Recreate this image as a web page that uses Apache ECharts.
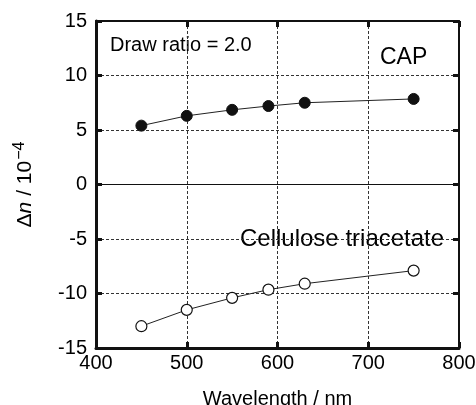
<!DOCTYPE html>
<html>
<head>
<meta charset="utf-8">
<script src="https://cdn.jsdelivr.net/npm/echarts@6/dist/echarts.min.js"></script>
<style>
  html, body { margin: 0; padding: 0; background: #fff; }
  #chart { width: 476px; height: 405px; }
</style>
</head>
<body>
<div id="chart"></div>
<script>
// wavelength (nm) and birefringence (x 10^-4)
var wavelength = [450, 500, 550, 590, 630, 750];
var capDn = [5.4, 6.3, 6.85, 7.2, 7.5, 7.85];
var ctaDn = [-13.0, -11.5, -10.4, -9.65, -9.1, -7.9];
var xTicks = [400, 500, 600, 700, 800];
var yTicks = [-15, -10, -5, 0, 5, 10, 15];

var font = "'Liberation Sans', Arial, sans-serif";

function pairs(ys) {
  return wavelength.map(function (x, i) { return [x, ys[i]]; });
}

var myChart = echarts.init(document.getElementById("chart"));

var dashed = { show: true, lineStyle: { color: "#333", width: 1, type: [3, 2] } };

myChart.setOption({
  animation: false,
  backgroundColor: "#fff",
  grid: { left: 96, right: 17, top: 21, bottom: 57, containLabel: false, outerBoundsMode: "none" },
  xAxis: [
    {
      type: "value",
      position: "bottom",
      min: xTicks[0],
      max: xTicks[xTicks.length - 1],
      interval: 100,
      name: "Wavelength / nm",
      nameLocation: "middle",
      nameGap: 41,
      nameTextStyle: { fontFamily: font, fontSize: 20, color: "#000" },
      axisLine: { onZero: false, lineStyle: { color: "#111", width: 3 } },
      axisTick: { inside: true, length: 6, lineStyle: { color: "#111", width: 3 } },
      axisLabel: { fontFamily: font, fontSize: 20, color: "#000", margin: 5 },
      splitLine: dashed
    },
    {
      type: "value",
      position: "top",
      min: xTicks[0],
      max: xTicks[xTicks.length - 1],
      interval: 100,
      axisLine: { onZero: false, lineStyle: { color: "#111", width: 2 } },
      axisTick: { inside: true, length: 6, lineStyle: { color: "#111", width: 3 } },
      axisLabel: { show: false },
      splitLine: { show: false }
    }
  ],
  yAxis: [
    {
      type: "value",
      position: "left",
      min: yTicks[0],
      max: yTicks[yTicks.length - 1],
      interval: 5,
      name: "{a|Δ}{i|n}{a| / 10}{s|−4}",
      nameLocation: "middle",
      nameRotate: 90,
      nameGap: 60,
      nameTextStyle: {
        fontFamily: font,
        rich: {
          a: { fontFamily: font, fontSize: 21, color: "#000", lineHeight: 24, verticalAlign: "bottom" },
          i: { fontFamily: font, fontSize: 21, fontStyle: "italic", color: "#000", lineHeight: 24, verticalAlign: "bottom" },
          s: { fontFamily: font, fontSize: 16, color: "#000", lineHeight: 24, verticalAlign: "top", padding: [0, 0, 0, 1] }
        }
      },
      axisLine: { onZero: false, lineStyle: { color: "#111", width: 3 } },
      axisTick: { inside: true, length: 6, lineStyle: { color: "#111", width: 3 } },
      axisLabel: { fontFamily: font, fontSize: 20, color: "#000", margin: 9 },
      splitLine: dashed
    },
    {
      type: "value",
      position: "right",
      min: yTicks[0],
      max: yTicks[yTicks.length - 1],
      interval: 5,
      axisLine: { onZero: false, lineStyle: { color: "#111", width: 2 } },
      axisTick: { inside: true, length: 6, lineStyle: { color: "#111", width: 3 } },
      axisLabel: { show: false },
      splitLine: { show: false }
    }
  ],
  series: [
    {
      name: "CAP",
      type: "line",
      data: pairs(capDn),
      symbol: "circle",
      symbolSize: 11,
      lineStyle: { color: "#222", width: 1 },
      itemStyle: { color: "#111", borderColor: "#111", borderWidth: 1 },
      markLine: {
        silent: true,
        symbol: "none",
        label: { show: false },
        lineStyle: { color: "#111", width: 1, type: "solid" },
        data: [{ yAxis: 0 }]
      },
      z: 5
    },
    {
      name: "Cellulose triacetate",
      type: "line",
      data: pairs(ctaDn),
      symbol: "circle",
      symbolSize: 11,
      lineStyle: { color: "#222", width: 1 },
      itemStyle: { color: "#fff", borderColor: "#111", borderWidth: 1.2 },
      z: 5
    }
  ],
  graphic: [
    {
      type: "text", left: 110, top: 35,
      style: { text: "Draw ratio = 2.0", font: "20px " + font, fill: "#000" }
    },
    {
      type: "text", left: 380, top: 46,
      style: { text: "CAP", font: "23px " + font, fill: "#000" }
    },
    {
      type: "text", left: 240, top: 227,
      style: { text: "Cellulose triacetate", font: "24px " + font, fill: "#000" }
    }
  ]
});
</script>
</body>
</html>
